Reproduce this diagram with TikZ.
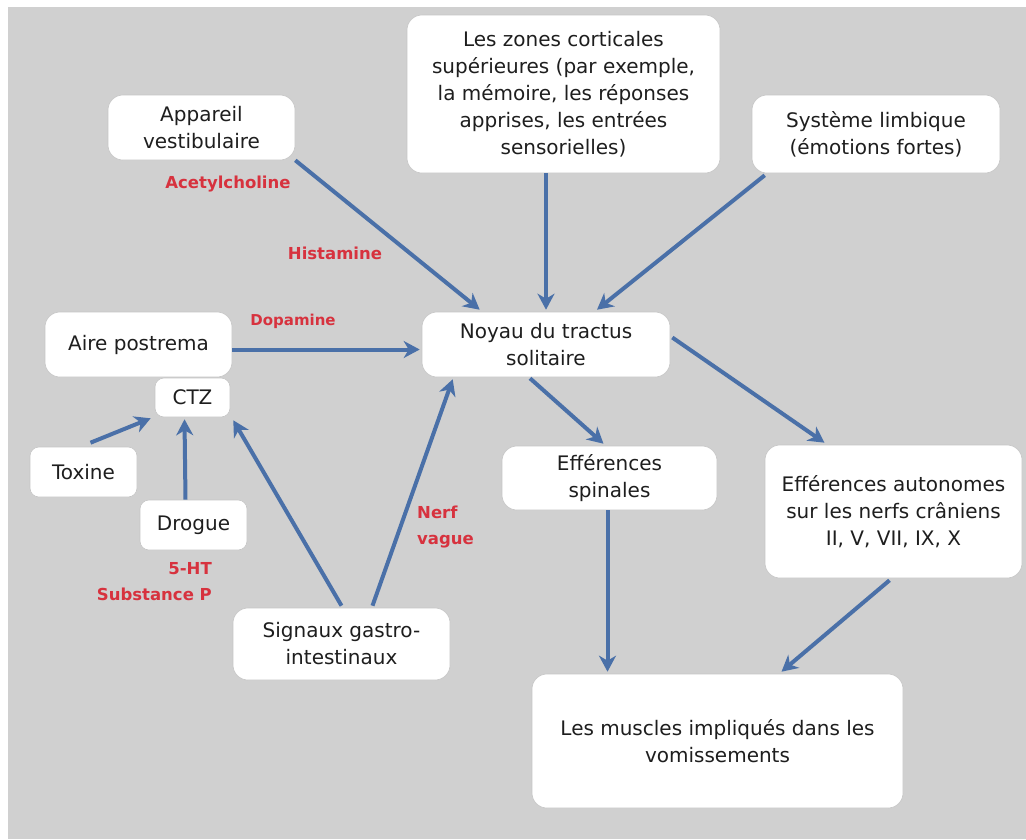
\documentclass[tikz,border=0pt]{standalone}
\usepackage{fontspec}
\setmainfont{DejaVu Sans}
\usetikzlibrary{arrows.meta,calc}
\definecolor{bggray}{RGB}{208,208,208}
\definecolor{arrowblue}{RGB}{74,112,168}
\definecolor{labred}{RGB}{215,50,62}
\definecolor{txt}{RGB}{30,30,30}
\begin{document}
\begin{tikzpicture}[x=1pt,y=-1pt,
  box/.style={draw=gray!45,line width=0.6pt,fill=white,rounded corners=15pt,
    inner sep=0pt,align=center,text=txt,font=\fontsize{20}{27}\selectfont},
  sbox/.style={box,rounded corners=9pt},
  lab/.style={text=labred,font=\fontsize{16.5}{26}\selectfont\bfseries,inner sep=0pt},
  conn/.style={draw=arrowblue,line width=4pt,
    -{Stealth[length=16pt,width=17pt,inset=5pt]}}]
\useasboundingbox (0,0) rectangle (1026,839);
\fill[white] (0,0) rectangle (1026,839);
\fill[bggray] (8,7) rectangle (1026,839);

% boxes
\node[box,minimum width=187,minimum height=65] (vest) at (201.5,127.5) {Appareil\\vestibulaire};
\node[box,minimum width=313,minimum height=158] (zones) at (563.5,94) {Les zones corticales\\sup\'erieures (par exemple,\\la m\'emoire, les r\'eponses\\apprises, les entr\'ees\\sensorielles)};
\node[box,minimum width=248,minimum height=78] (limb) at (876,134) {Syst\`eme limbique\\(\'emotions fortes)};
\node[box,minimum width=187,minimum height=65] (aire) at (138.5,344.5) {Aire postrema};
\node[sbox,minimum width=75,minimum height=39] (ctz) at (192.5,397.5) {CTZ};
\node[sbox,minimum width=107,minimum height=50] (tox) at (83.5,472) {Toxine};
\node[sbox,minimum width=107,minimum height=50] (drog) at (193.5,525) {Drogue};
\node[box,minimum width=248,minimum height=65] (noyau) at (546,344.5) {Noyau du tractus\\solitaire};
\node[box,minimum width=215,minimum height=64] (spin) at (609.5,478) {Eff\'erences\\spinales};
\node[box,minimum width=257,minimum height=133] (auto) at (893.5,511.5) {Eff\'erences autonomes\\sur les nerfs cr\^aniens\\II, V, VII, IX, X};
\node[box,minimum width=217,minimum height=72] (sig) at (341.5,644) {Signaux gastro-\\intestinaux};
\node[box,minimum width=371,minimum height=134] (musc) at (717.5,741) {Les muscles impliqu\'es dans les\\vomissements};

% red labels
\node[lab] (lacet) at (228,184) {Acetylcholine};
\node[lab] (lhist) at (335,253) {Histamine};
\node[lab,font=\fontsize{15}{20}\selectfont\bfseries] (ldopa) at (293,321) {Dopamine};
\node[lab,align=right,anchor=east] (lht) at (212,582) {5-HT\\Substance P};
\node[lab,align=left,anchor=west] (lnerf) at (417,527) {Nerf\\vague};

% connectors
\draw[conn] (vest.south east) -- ([xshift=58pt,yshift=2pt]noyau.north west);
\draw[conn] (noyau.north |- zones.south) -- ([yshift=2pt]noyau.north);
\draw[conn] ([xshift=13pt,yshift=-2pt]limb.south west) -- ([xshift=51pt,yshift=2pt]noyau.north);
\draw[conn] ([yshift=-5pt]aire.east) -- ([xshift=-2pt,yshift=-5pt]noyau.west);
\draw[conn] ([xshift=7pt,yshift=4pt]tox.north) -- ([xshift=-4pt,yshift=-1pt]ctz.south west);
\draw[conn] ([xshift=-8pt]drog.north) -- ([xshift=-8pt,yshift=-2pt]ctz.south);
\draw[conn] ([yshift=2pt]sig.north) -- ([xshift=3pt,yshift=-3pt]ctz.south east);
\draw[conn] ([xshift=31pt,yshift=2pt]sig.north) -- ([xshift=31pt,yshift=-2pt]noyau.south west);
\draw[conn] ([xshift=-16pt,yshift=-1pt]noyau.south) -- ([xshift=-6pt,yshift=2pt]spin.north);
\draw[conn] ([xshift=2pt,yshift=7pt]noyau.east) -- ([xshift=-69pt,yshift=2pt]auto.north);
\draw[conn] ([xshift=-2pt]spin.south) -- ([xshift=-2pt,yshift=2pt]spin.south |- musc.north);
\draw[conn] ([xshift=-4pt,yshift=-2pt]auto.south) -- ([xshift=64pt,yshift=2pt]musc.north);
\end{tikzpicture}
\end{document}
